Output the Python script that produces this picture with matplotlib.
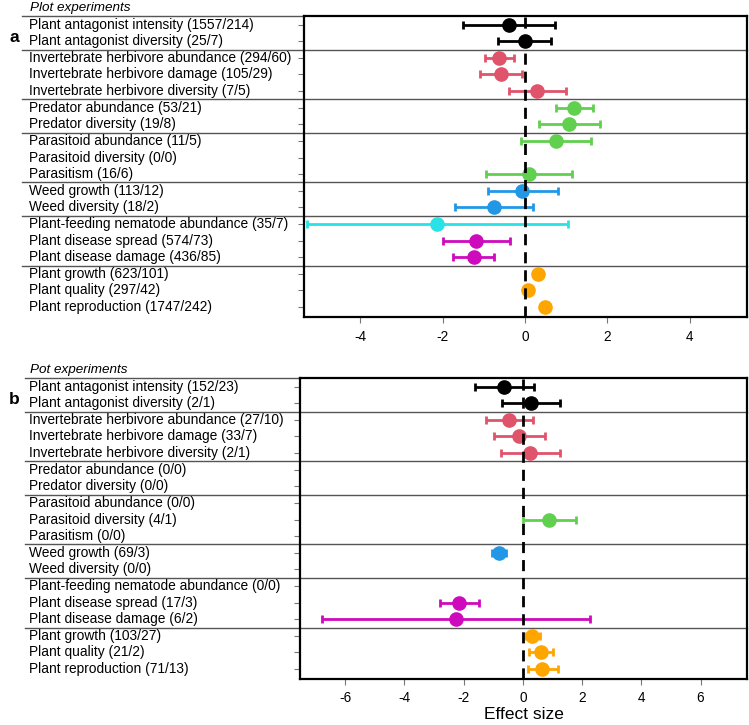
import matplotlib
matplotlib.use("Agg")
import matplotlib.pyplot as plt
from matplotlib.transforms import blended_transform_factory

plt.rcParams['font.family'] = ['Liberation Sans', 'DejaVu Sans']

# colours per row (R-like palette)
row_colors = ['#000000', '#000000',
              '#DF536B', '#DF536B', '#DF536B',
              '#61D04F', '#61D04F',
              '#61D04F', '#61D04F', '#61D04F',
              '#2297E6', '#2297E6',
              '#28E2E5', '#CD0BBC', '#CD0BBC',
              '#FFA500', '#FFA500', '#FFA500']

labels_a = ['Plant antagonist intensity (1557/214)', 'Plant antagonist diversity (25/7)',
            'Invertebrate herbivore abundance (294/60)', 'Invertebrate herbivore damage (105/29)',
            'Invertebrate herbivore diversity (7/5)', 'Predator abundance (53/21)',
            'Predator diversity (19/8)', 'Parasitoid abundance (11/5)',
            'Parasitoid diversity (0/0)', 'Parasitism (16/6)', 'Weed growth (113/12)',
            'Weed diversity (18/2)', 'Plant-feeding nematode abundance (35/7)',
            'Plant disease spread (574/73)', 'Plant disease damage (436/85)',
            'Plant growth (623/101)', 'Plant quality (297/42)', 'Plant reproduction (1747/242)']
est_a = [-0.39, 0.0, -0.63, -0.59, 0.30, 1.20, 1.06, 0.75, None, 0.10,
         -0.07, -0.76, -2.13, -1.19, -1.25, 0.32, 0.08, 0.49]
lo_a = [-1.51, -0.66, -0.98, -1.10, -0.39, 0.76, 0.34, -0.09, None, -0.95,
        -0.90, -1.71, -5.29, -1.99, -1.74, 0.22, 0.0, 0.39]
hi_a = [0.73, 0.63, -0.28, -0.08, 1.00, 1.64, 1.81, 1.60, None, 1.13,
        0.79, 0.19, 1.04, -0.37, -0.76, 0.42, 0.16, 0.59]

labels_b = ['Plant antagonist intensity (152/23)', 'Plant antagonist diversity (2/1)',
            'Invertebrate herbivore abundance (27/10)', 'Invertebrate herbivore damage (33/7)',
            'Invertebrate herbivore diversity (2/1)', 'Predator abundance (0/0)',
            'Predator diversity (0/0)', 'Parasitoid abundance (0/0)',
            'Parasitoid diversity (4/1)', 'Parasitism (0/0)', 'Weed growth (69/3)',
            'Weed diversity (0/0)', 'Plant-feeding nematode abundance (0/0)',
            'Plant disease spread (17/3)', 'Plant disease damage (6/2)',
            'Plant growth (103/27)', 'Plant quality (21/2)', 'Plant reproduction (71/13)']
est_b = [-0.63, 0.26, -0.46, -0.12, 0.25, None, None, None, 0.88, None,
         -0.80, None, None, -2.16, -2.25, 0.31, 0.60, 0.65]
lo_b = [-1.63, -0.72, -1.26, -0.96, -0.73, None, None, None, 0.01, None,
        -1.06, None, None, -2.80, -6.77, 0.09, 0.20, 0.17]
hi_b = [0.37, 1.25, 0.33, 0.73, 1.25, None, None, None, 1.78, None,
        -0.56, None, None, -1.49, 2.25, 0.58, 1.03, 1.17]

group_breaks = [2.5, 5.5, 7.5, 10.5, 12.5, 15.5]
xticks_a = [-4, -2, 0, 2, 4]
xticks_b = [-6, -4, -2, 0, 2, 4, 6]

W, H = 749, 725
fig = plt.figure(figsize=(W / 100, H / 100), dpi=100)


def panel(rect, labels, est, lo, hi, xlim, xticks, title, letter, label_x, line_x0):
    ax = fig.add_axes(rect)
    rows = list(range(1, len(labels) + 1))
    for r, e, l, h, c in zip(rows, est, lo, hi, row_colors):
        if e is None:
            continue
        ax.errorbar([e], [r], xerr=[[e - l], [h - e]], fmt='o', color=c,
                    ms=9.5, elinewidth=2, capsize=3, capthick=2, zorder=3)
    ax.axvline(0, color='black', ls=(0, (4, 2.5)), lw=2, zorder=4)
    ax.set_xlim(xlim)
    ax.set_ylim(18.6, 0.48)
    ax.set_xticks(xticks)
    ax.set_xticklabels([str(t) for t in xticks], fontsize=9.8)
    ax.set_yticks(rows)
    ax.set_yticklabels([])
    ax.tick_params(axis='both', color='#777777', length=4, width=0.8)
    ax.tick_params(axis='x', pad=5)
    for s in ax.spines.values():
        s.set_linewidth(1.6)
    x0 = (line_x0 - rect[0] * W) / (rect[2] * W)
    for b in group_breaks:
        ax.axhline(b, xmin=x0, xmax=1, color='#555555', lw=1, clip_on=False, zorder=1)
    ax.axhline(0.48, xmin=x0, xmax=0, color='#555555', lw=1, clip_on=False)
    tr = blended_transform_factory(fig.transFigure, ax.transData)
    for r, t in zip(rows, labels):
        ax.text(label_x / W, r, t, transform=tr, ha='left', va='center', fontsize=9.9)
    top = rect[1] + rect[3]
    fig.text(30 / W, top + 2 / H, title, style='italic', fontsize=9.7, va='bottom', ha='left')
    fig.text(9 / W, top - 21 / H, letter, fontweight='bold', fontsize=12.5, va='center', ha='left')
    return ax


ax_a = panel([304 / W, 1 - 317 / H, 443 / W, 301 / H], labels_a, est_a, lo_a, hi_a,
             (-5.37, 5.39), xticks_a, 'Plot experiments', 'a', 29, 22)
ax_b = panel([300 / W, 1 - 679 / H, 447 / W, 301 / H], labels_b, est_b, lo_b, hi_b,
             (-7.53, 7.57), xticks_b, 'Pot experiments', 'b', 29, 25)
ax_b.set_xlabel('Effect size', fontsize=12.5, labelpad=1)

fig.savefig('out.png', dpi=100)
